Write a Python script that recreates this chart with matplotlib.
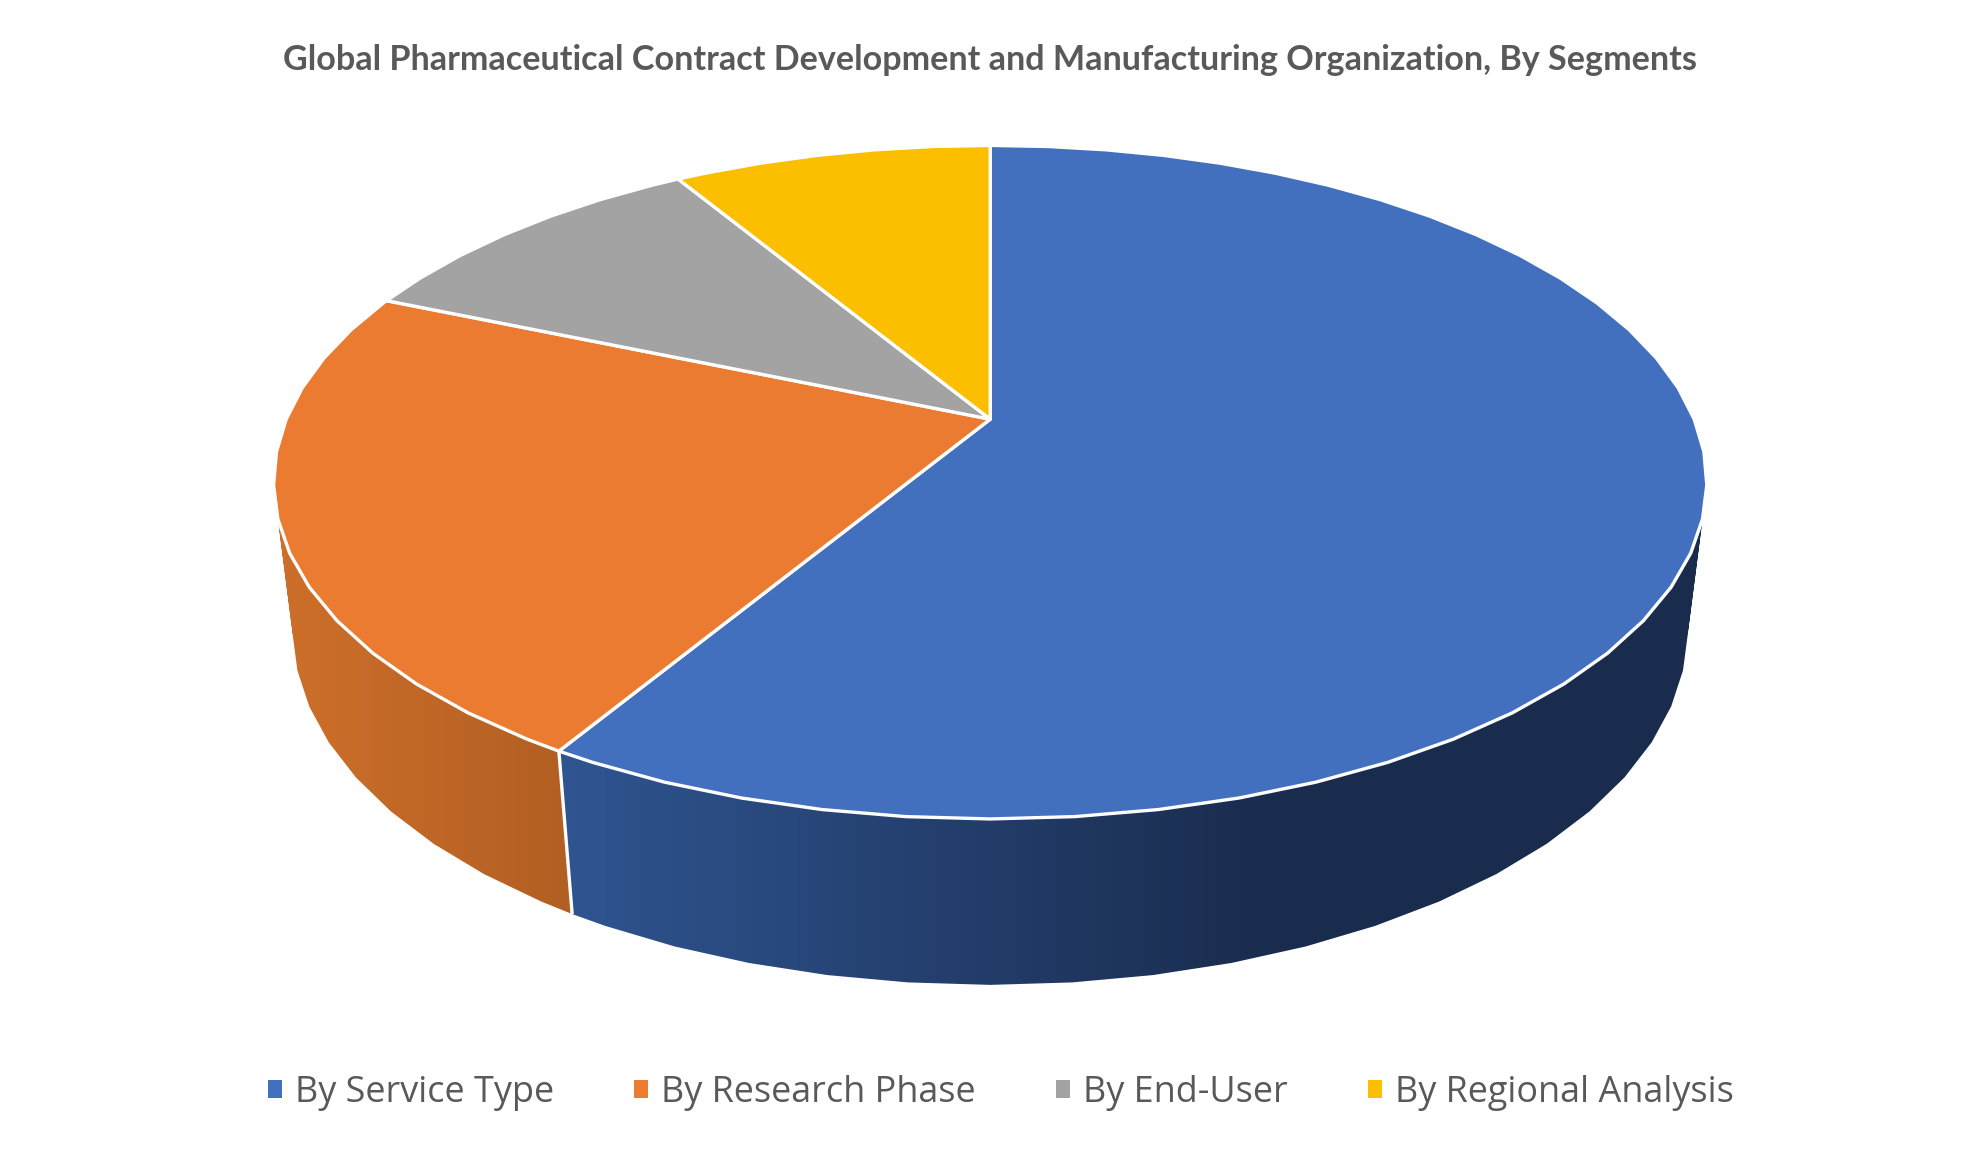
import numpy as np
import matplotlib
matplotlib.use("Agg")
import matplotlib.pyplot as plt
from matplotlib.patches import Patch, PathPatch
from matplotlib.path import Path
from matplotlib.colors import to_rgb

title = "Global Pharmaceutical Contract Development and Manufacturing Organization, By Segments"
categories = ["By Service Type", "By Research Phase", "By End-User", "By Regional Analysis"]
shares = [58.6, 22.8, 10.0, 8.6]
colors = ["#4270BF", "#EA7B30", "#A3A3A3", "#FBBF00"]
TEXT = "#595959"

# projection of the tilted disc (figure pixels)
CX, CY = 990.2, 419.2
RX, RY = 704.0, 325.0
K, M, H = 0.187, 0.0267, 150.0
FACETS = 64


def project(theta, z=0.0):
    """theta: clockwise radians from the far side; z=1 is the lower face."""
    u, v = np.sin(theta), np.cos(theta)
    w = 1 + K * v + M * z
    return CX + RX * u / w, CY + (-RY * v + H * z) / w


def arc(a, b):
    base = np.linspace(0, 2 * np.pi, FACETS + 1)
    inner = base[(base > a) & (base < b)]
    return np.r_[a, inner, b]


fig = plt.figure(figsize=(19.8, 11.55), dpi=100, facecolor="white")
ax = fig.add_axes([0, 0, 1, 1])

edges = np.radians(np.concatenate([[0], np.cumsum(shares)]) / np.sum(shares) * 360)

wall_shades = {
    0: ((570, "#2F5490"), (1270, "#1A2C4E")),
    1: ((285, "#CD6F2A"), (570, "#B25F23")),
}

# side wall: a horizontal gradient clipped to the visible strip of each segment
for i, ((x0, c0), (x1, c1)) in wall_shades.items():
    grid = arc(edges[i], edges[i + 1])
    grid = grid[np.cos(grid) < 0.45]
    verts, codes = [], []
    for a, b in zip(grid[:-1], grid[1:]):
        xt, yt = project(np.array([a, b]))
        xb, yb = project(np.array([b, a]), 1.0)
        # keep one winding direction so overlapping strips stay filled
        quad = np.column_stack([np.r_[xt, xb], np.r_[yt, yb]])
        area = np.sum(quad[:, 0] * np.roll(quad[:, 1], -1) - np.roll(quad[:, 0], -1) * quad[:, 1])
        if area < 0:
            quad = quad[::-1]
        verts += list(quad) + [quad[0]]
        codes += [Path.MOVETO, Path.LINETO, Path.LINETO, Path.LINETO, Path.CLOSEPOLY]
    ramp = np.linspace(0, 1, 256)[:, None]
    rgb = (1 - ramp) * np.array(to_rgb(c0)) + ramp * np.array(to_rgb(c1))
    clip = PathPatch(Path(verts, codes), transform=ax.transData, facecolor="none", edgecolor="none")
    ax.add_patch(clip)
    im = ax.imshow(rgb[None, :, :], extent=(x0, x1, 1155, 0), aspect="auto",
                   interpolation="bilinear", zorder=1)
    # extend the end colours past the ramp
    left = ax.imshow(rgb[None, :1, :], extent=(0, x0, 1155, 0), aspect="auto", zorder=1)
    right = ax.imshow(rgb[None, -1:, :], extent=(x1, 1980, 1155, 0), aspect="auto", zorder=1)
    for artist in (im, left, right):
        artist.set_clip_path(clip)

ax.set_xlim(0, 1980)
ax.set_ylim(1155, 0)
ax.axis("off")

# white divider where the two visible segments meet on the wall
xt, yt = project(edges[1])
xb, yb = project(edges[1], 1.0)
ax.plot([xt, xb], [yt, yb], color="white", lw=2.4, zorder=2, solid_capstyle="butt")

# top face
for i in range(len(shares)):
    x, y = project(arc(edges[i], edges[i + 1]))
    ax.fill(np.r_[CX, x], np.r_[CY, y], facecolor=colors[i], edgecolor="white",
            lw=2.4, joinstyle="round", zorder=3)

fig.text(990 / 1980, 1 - 60 / 1155, title, ha="center", va="center",
         fontsize=24.6, fontweight="bold", family="Lato", color=TEXT)

handles = [Patch(facecolor=c, edgecolor="none") for c in colors]
fs = 25.9
px = fs * 100 / 72
fig.legend(handles, categories, loc="center", bbox_to_anchor=(1001 / 1980, 1 - 1093 / 1155),
           ncol=4, frameon=False, prop={"family": "Open Sans", "size": fs},
           labelcolor=TEXT, handlelength=14 / px, handleheight=14 / px,
           handletextpad=13 / px, columnspacing=80 / px, borderpad=0, borderaxespad=0)

fig.savefig("out.png", dpi=100, facecolor="white")
